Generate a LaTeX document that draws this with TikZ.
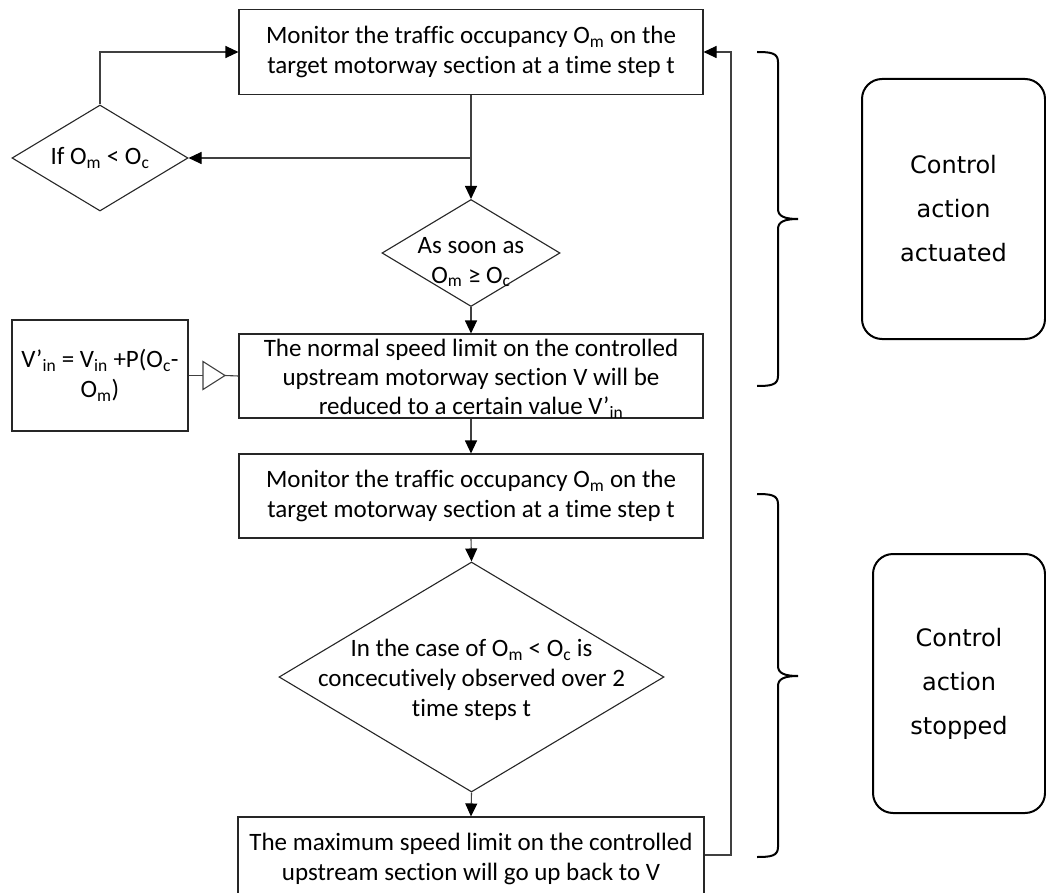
\documentclass[tikz,border=0pt]{standalone}
\usepackage{fontspec}
\setmainfont{Carlito}[Ligatures=NoCommon]
\newfontfamily\notefont{DejaVu Sans}
\usetikzlibrary{shapes.geometric,arrows.meta,calc}

\begin{document}
\begin{tikzpicture}[x=1pt,y=-1pt,
  flow/.style={font=\fontsize{25}{30}\selectfont, align=center},
  box/.style={flow, draw=black!85, line width=1.1pt, rectangle, inner sep=0pt},
  dia/.style={draw=black!85, line width=1.1pt, diamond, inner sep=0pt},
  txt/.style={flow, inner sep=0pt},
  note/.style={draw=black, line width=2pt, rounded corners=20pt, align=center,
    font=\notefont\fontsize{24}{44}\selectfont},
  link/.style={draw=black!75, line width=1.1pt},
  arr/.style={link, -{Triangle[length=13pt,width=12pt,color=black]}},
  brace/.style={draw=black, line width=2pt}
]
\useasboundingbox (0,0) rectangle (1046,893);
\clip (0,0) rectangle (1046,893);

% main column
\node[box, minimum width=464pt, minimum height=85pt] (mon1) at (471,52)
  {Monitor the traffic occupancy O\textsubscript{m} on the\\target motorway section at a time step t};
\node[dia, minimum width=176pt, minimum height=106pt] (chk1) at (100,158) {};
\node[txt] (chk1t) at (chk1) {If O\textsubscript{m} < O\textsubscript{c}};
\node[dia, minimum width=178pt, minimum height=107pt] (chk2) at (471,253) {};
\node[txt] (chk2t) at (471,262) {As soon as\\O\textsubscript{m} ≥ O\textsubscript{c}};
\node[box, minimum width=464pt, minimum height=84pt] (red) at (471,376) {};
\node[txt, font=\fontsize{25}{29}\selectfont] (redt) at (471,379)
  {The normal speed limit on the controlled\\upstream motorway section V will be\\reduced to a certain value V’\textsubscript{in}};
\node[box, minimum width=176pt, minimum height=111pt] (vin) at (100,375.5)
  {V’\textsubscript{in} = V\textsubscript{in} +P(O\textsubscript{c}-\\O\textsubscript{m})};
\node[box, minimum width=464pt, minimum height=84pt] (mon2) at (471,496)
  {Monitor the traffic occupancy O\textsubscript{m} on the\\target motorway section at a time step t};
\node[dia, minimum width=385pt, minimum height=230pt] (chk3) at (471.5,677) {};
\node[txt] (chk3t) at (471.5,680)
  {In the case of O\textsubscript{m} < O\textsubscript{c} is\\concecutively observed over 2\\time steps t};
\node[box, minimum width=466pt, minimum height=84pt] (back) at (471,859)
  {The maximum speed limit on the controlled\\upstream section will go up back to V};

% side notes
\node[note, minimum width=183pt, minimum height=260pt] (act) at (953.5,209)
  {Control\\action\\actuated};
\node[note, minimum width=172pt, minimum height=259pt] (stop) at (959,683.5)
  {Control\\action\\stopped};

% connectors
\coordinate (split) at (mon1.south |- chk1.east);
\coordinate (loopx) at (731,855);
\draw[arr] (mon1.south) -- (chk2.north);
\draw[arr] (split) -- (chk1.east);
\draw[arr] (chk1.north) |- (mon1.west);
\draw[arr] (chk2.south) -- (red.north);
\draw[arr] (red.south) -- (mon2.north);
\draw[arr] (mon2.south) -- (chk3.north);
\draw[arr] (chk3.south) -- (back.north);
\draw[arr] (back.east |- loopx) -- (loopx) |- (mon1.east);

% buffer symbol between the formula and the reduction step
\coordinate (bufin) at (203,375.5);
\coordinate (bufout) at (225,375.5);
\draw[link] (vin.east) -- (bufin);
\draw[link, fill=white] (bufin) ++(0,-14) -- (bufout) -- ($(bufin)+(0,14)$) -- cycle;
\draw[link] (bufout) -- (red.west);

% braces
\draw[brace] (757,52) .. controls (771,52) and (778,53) .. (778,62) -- (778,209)
  .. controls (778,216) and (784,219) .. (798,219)
  .. controls (784,219) and (778,222) .. (778,229) -- (778,376)
  .. controls (778,385) and (771,386) .. (757,386);
\draw[brace] (757,494) .. controls (771,494) and (778,495) .. (778,504) -- (778,666)
  .. controls (778,673) and (784,676) .. (798,676)
  .. controls (784,676) and (778,679) .. (778,686) -- (778,847)
  .. controls (778,856) and (771,857) .. (757,857);
\end{tikzpicture}
\end{document}
